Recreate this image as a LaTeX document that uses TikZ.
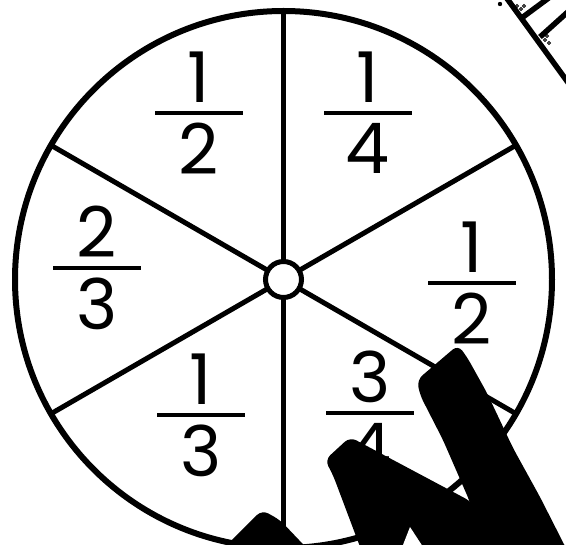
\documentclass[tikz,border=0pt]{standalone}
\usepackage{fontspec}
\setmainfont{Poppins}
\usetikzlibrary{calc}
\tikzset{
  rim/.style={draw=black, line width=6pt},
  spoke/.style={draw=black, line width=5pt, line cap=round},
  hub/.style={circle, draw=black, fill=white, line width=5pt,
    minimum size=36pt, inner sep=0pt},
  digit/.style={inner sep=0pt, font=\fontsize{70}{70}\selectfont},
  fbar/.style={draw=black, line width=4pt},
  blot/.style={fill=black, rounded corners=7pt},
  hatch/.style={draw=black, line width=5.5pt},
  speck/.style={draw=black, line width=0.9pt}
}
% one fraction: name, centre of its bar, numerator, denominator
\newcommand\spinfrac[4]{%
  \coordinate (#1) at #2;
  \node[digit, anchor=south] (#1-n) at ($(#1)+(0,-10)$) {#3};
  \node[digit, anchor=north] (#1-d) at ($(#1)+(0,10)$) {#4};
  \draw[fbar] ($(#1)+(-44,0)$) -- ($(#1)+(44,0)$);
}
\begin{document}
\begin{tikzpicture}[x=1pt,y=-1pt]
  \useasboundingbox (0,0) rectangle (566,545);
  \clip (0,0) rectangle (566,545);
  % the wheel
  \coordinate (c) at (283.5,279.5);
  \draw[rim] (c) circle (268.5);
  \foreach \a in {30,90,150,210,270,330} {
    \draw[spoke] (c) -- ($(c)+(\a:268.5)$);
  }
  \node[hub] (hub) at (c) {};
  % the six sectors
  \spinfrac{tl}{(199,113)}{1}{2}
  \spinfrac{tr}{(368,113)}{1}{4}
  \spinfrac{ml}{(97,268)}{2}{3}
  \spinfrac{mr}{(472,283)}{1}{2}
  \spinfrac{bl}{(201,415)}{1}{3}
  \spinfrac{br}{(370,413)}{3}{4}
  % corner of the stand, top right
  \draw[hatch] (503,-7) -- (572,88);
  \draw[hatch] (523,17) -- (550,-3);
  \draw[hatch] (540,37) -- (570,10);
  \fill (500,4) circle (2.2);
  \foreach \p in {(517,6),(521,9),(524,6),(545,40),(549,43),(547,36)} {
    \draw[speck] \p circle (1.4);
  }
  % fingers over the wheel
  \fill[blot] (417,380) -- (458,345) -- (467,357) -- (487,393)
    -- (513,448) -- (540,497) -- (572,560) -- (480,560)
    -- (470,502) -- (443,440) -- (420,395) -- cycle;
  \fill[blot] (325,460) -- (350,437) -- (380,453) -- (472,502)
    -- (492,560) -- (365,560) -- (333,475) -- cycle;
  \fill[white] (401,550) -- (410,527) -- (425,550) -- cycle;
  \fill[blot] (212,560) -- (262,510) -- (280,520) -- (318,560) -- cycle;
\end{tikzpicture}
\end{document}
